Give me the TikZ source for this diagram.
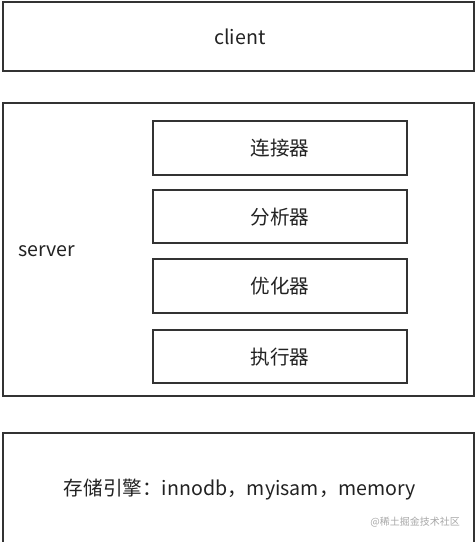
\documentclass[tikz,border=0pt]{standalone}
\usepackage{fontspec}
\setmainfont{Noto Sans CJK SC}
\definecolor{edge}{HTML}{333333}
\definecolor{txt}{HTML}{222222}
\definecolor{wm}{HTML}{A8A8A8}
\begin{document}
\begin{tikzpicture}[x=1pt,y=-1pt,
  layer/.style={draw=edge,line width=2.2pt,fill=white},
  part/.style={draw=edge,line width=2.2pt,fill=white},
  lbl/.style={text=txt,font=\fontsize{19.6}{22}\selectfont,inner sep=0pt}]
\useasboundingbox[fill=white] (0,0) rectangle (475,542);
% client
\draw[layer] (3,2) rectangle (474,71);
\node[lbl] (client) at (240,37) {client};
% server
\draw[layer] (3,103) rectangle (474,396);
\node[lbl,anchor=west] (server) at (18,251) {server};
\draw[part] (153,121) rectangle (407,175);
\node[lbl] (lj) at (280,148) {连接器};
\draw[part] (153,190) rectangle (407,243);
\node[lbl] (fx) at (280,217) {分析器};
\draw[part] (153,259) rectangle (407,313);
\node[lbl] (yh) at (280,286) {优化器};
\draw[part] (153,330) rectangle (407,383);
\node[lbl] (zx) at (280,357) {执行器};
% storage
\draw[layer] (3,433) rectangle (474,560);
\node[lbl] (store) at (240,490) {存储引擎：innodb，myisam，memory};
\node[text=wm,font=\fontsize{10}{11}\selectfont,anchor=east,inner sep=0pt] (wmk) at (460,522) {@稀土掘金技术社区};
\end{tikzpicture}
\end{document}
